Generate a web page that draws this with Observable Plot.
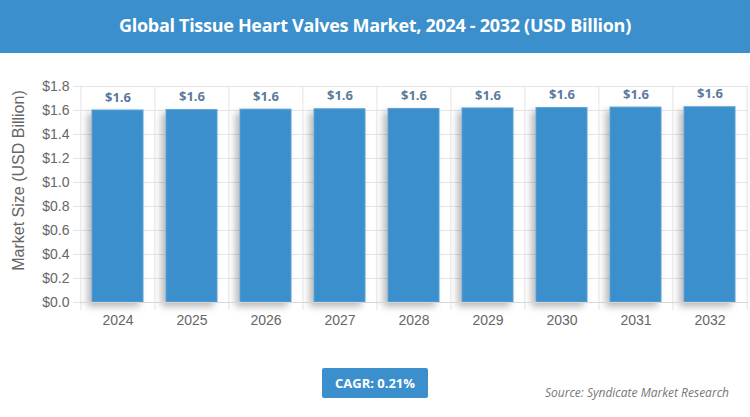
<!DOCTYPE html>
<html>
<head>
<meta charset="utf-8">
<script src="https://cdn.jsdelivr.net/npm/d3@7"></script>
<script src="https://cdn.jsdelivr.net/npm/@observablehq/plot@0.6"></script>
<style>
  html, body { margin: 0; padding: 0; background: #fff; }
  #wrap { position: relative; width: 750px; height: 417px; overflow: hidden; font-family: "Open Sans", "Noto Sans", sans-serif; }
  #header { position: absolute; left: 0; top: 0; width: 750px; height: 53px; background: #3a8fcc; color: #fff;
            font-weight: 700; font-size: 18px; text-align: center; line-height: 51px; letter-spacing: -0.3px; }
  #chart { position: absolute; left: 0; top: 53px; }
  #cagr { position: absolute; left: 322px; top: 368px; width: 106px; height: 30px; background: #3a8fcc; color: #fff;
          font-weight: 700; font-size: 13px; text-align: center; line-height: 30px; border-radius: 2px; }
  #source { position: absolute; right: 21px; top: 384px; color: #777; font-style: italic; font-size: 12px; }
</style>
</head>
<body>
<div id="wrap">
  <div id="header">Global Tissue Heart Valves Market, 2024 - 2032 (USD Billion)</div>
  <div id="chart"></div>
  <div id="cagr">CAGR: 0.21%</div>
  <div id="source">Source: Syndicate Market Research</div>
</div>
<script>
const years = ["2024", "2025", "2026", "2027", "2028", "2029", "2030", "2031", "2032"];
const values = [1.600, 1.603, 1.607, 1.610, 1.613, 1.617, 1.620, 1.624, 1.627];
const yTicks = [0, 0.2, 0.4, 0.6, 0.8, 1.0, 1.2, 1.4, 1.6, 1.8];
const labels = ["$1.6", "$1.6", "$1.6", "$1.6", "$1.6", "$1.6", "$1.6", "$1.6", "$1.6"];
const yTitle = "Market Size (USD Billion)";

const data = years.map((y, i) => ({year: y, value: values[i], label: labels[i]}));

const W = 750, H = 290;
const mL = 80, mR = 2, mT = 33, mB = 41;
const step = (W - mL - mR) / years.length;

const chart = Plot.plot({
  width: W,
  height: H,
  marginLeft: mL,
  marginRight: mR,
  marginTop: mT,
  marginBottom: mB,
  style: {fontFamily: "Arial, 'Liberation Sans', sans-serif", fontSize: "14px", color: "#666", background: "transparent"},
  x: {domain: years, paddingInner: 0.31, paddingOuter: 0.155, label: null},
  y: {domain: [0, 1.8]},
  marks: [
    Plot.ruleY(yTicks, {stroke: "#e4e4e4", strokeWidth: 1, insetLeft: -7}),
    Plot.ruleX(years, {x: d => d, dx: -step / 2, stroke: "#e4e4e4", insetBottom: -8}),
    Plot.ruleX([years[years.length - 1]], {x: d => d, dx: step / 2, stroke: "#e4e4e4", insetBottom: -8}),
    Plot.barY(data, {x: "year", y: "value", fill: "#3a8fcc", stroke: "#5d9fd2", strokeWidth: 1, className: "bars"}),
    Plot.text(data, {x: "year", y: "value", text: "label", dy: -13, fill: "#5b7a9b", fontWeight: "bold",
      fontSize: 13, fontFamily: "'Open Sans', 'Noto Sans', sans-serif"}),
    Plot.ruleY([0], {stroke: "#d6d6d6"}),
    Plot.axisY({ticks: yTicks, tickFormat: d => "$" + d.toFixed(1), tickSize: 0, tickPadding: 11, label: null,
      fill: "#666", fontSize: 14}),
    Plot.text([yTitle], {text: d => d, frameAnchor: "left", textAnchor: "middle", rotate: -90, dx: -62, dy: -14,
      fill: "#666", fontSize: 16, fontFamily: "Arial, 'Liberation Sans', sans-serif"}),
    Plot.axisX({tickSize: 0, tickPadding: 13, label: null, fill: "#666", fontSize: 14})
  ]
});

// drop shadow for bars
const ns = "http://www.w3.org/2000/svg";
const defs = document.createElementNS(ns, "defs");
defs.innerHTML = '<filter id="shadow" x="-30%" y="-10%" width="160%" height="130%">' +
  '<feDropShadow dx="-4" dy="4" stdDeviation="3.5" flood-color="#000" flood-opacity="0.28"/></filter>';
chart.insertBefore(defs, chart.firstChild);
chart.querySelectorAll("g.bars, g[class*='bars']").forEach(g => g.setAttribute("filter", "url(#shadow)"));

document.getElementById("chart").appendChild(chart);
</script>
</body>
</html>
